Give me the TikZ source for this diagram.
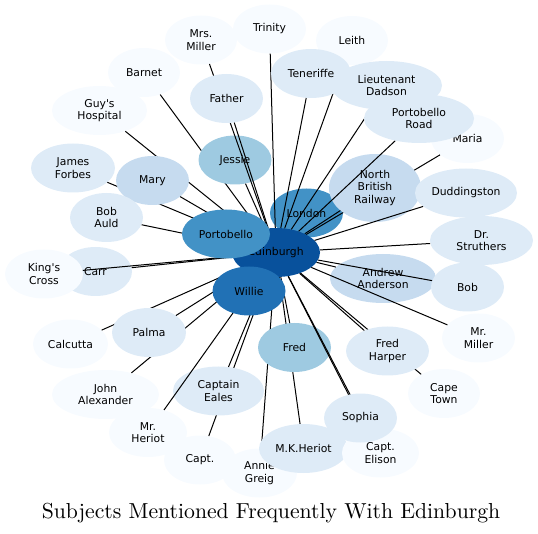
\documentclass[tikz,border=0pt]{standalone}
\usepackage{fontspec}
\newfontfamily\labelfont{DejaVu Sans}
\newfontfamily\titlefont{lmroman10-regular.otf}
\usetikzlibrary{shapes.geometric}
\definecolor{blue0}{HTML}{F7FBFF}
\definecolor{blue1}{HTML}{DEEBF7}
\definecolor{blue2}{HTML}{C6DBEF}
\definecolor{blue3}{HTML}{9ECAE1}
\definecolor{blue5}{HTML}{4292C6}
\definecolor{blue6}{HTML}{2171B5}
\definecolor{blue7}{HTML}{08519C}
\tikzset{
  subj/.style={ellipse, inner sep=0pt, minimum height=49pt, align=center,
    font=\labelfont\fontsize{10.8}{12.5}\selectfont},
  tie/.style={black, line width=1pt},
}
\begin{document}
\begin{tikzpicture}[x=1pt, y=-1pt]
  \useasboundingbox (0,0) rectangle (538,534);
  % one subject: \subject[extra]{name}{x}{y}{width}{fill}{label}, then its tie to the hub
  \newcommand\subject[7][]{%
    \node[subj, fill=#6, minimum width=#5, #1] (#2) at (#3,#4) {#7};
    \draw[tie] (edin) -- (#2);}
  % hub, and the node lying under it
  \node[subj, fill=blue5, minimum width=73pt] (london) at (306.5,213) {London};
  \node[subj, fill=blue7, minimum width=88pt] (edin) at (276,252.5) {Edinburgh};
  % drawn from the bottom up, so later ellipses hide earlier ties
  \subject{carr}{95.5}{271.5}{73pt}{blue1}{Carr}
  \subject{kings}{44}{274}{78pt}{blue0}{King's\\Cross}
  \subject{barnet}{144}{72.5}{72pt}{blue0}{Barnet}
  \subject{guys}{99.5}{110.5}{95pt}{blue0}{Guy's\\Hospital}
  \subject{forbes}{73}{168}{84pt}{blue1}{James\\Forbes}
  \subject{mary}{152.5}{180.5}{73pt}{blue2}{Mary}
  \subject{auld}{106.5}{217.5}{73pt}{blue1}{Bob\\Auld}
  \subject{jessie}{235}{160}{73pt}{blue3}{Jessie}
  \subject{mrsmiller}{201}{40}{72pt}{blue0}{Mrs.\\Miller}
  \subject{father}{226.5}{98.5}{73pt}{blue1}{Father}
  \subject{trinity}{269.5}{29}{73pt}{blue0}{Trinity}
  \subject{leith}{352}{40.5}{72pt}{blue0}{Leith}
  \subject{teneriffe}{311}{73.5}{80pt}{blue1}{Teneriffe}
  \subject{dadson}{386.5}{85.5}{111pt}{blue1}{Lieutenant\\Dadson}
  \subject{maria}{467.5}{138.5}{73pt}{blue0}{Maria}
  \subject[minimum height=68pt]{nbr}{375}{188}{92pt}{blue2}{North\\British\\Railway}
  \subject{duddingston}{466}{193}{102pt}{blue1}{Duddingston}
  \subject{pbroad}{419}{118.5}{110pt}{blue1}{Portobello\\Road}
  \subject{struthers}{481.5}{240.5}{103pt}{blue1}{Dr.\\Struthers}
  \subject{anderson}{383}{278.5}{106pt}{blue2}{Andrew\\Anderson}
  \subject{bob}{467.5}{287}{73pt}{blue1}{Bob}
  \subject{mrmiller}{478.5}{338}{73pt}{blue0}{Mr.\\Miller}
  \subject{capetown}{444}{393.5}{72pt}{blue0}{Cape\\Town}
  \subject{harper}{387.5}{351}{83pt}{blue1}{Fred\\Harper}
  \subject{annie}{259.5}{473}{75pt}{blue0}{Annie\\Greig}
  \subject{mkheriot}{303.5}{448.5}{89pt}{blue1}{M.K.Heriot}
  \subject{fred}{294.5}{347.5}{73pt}{blue3}{Fred}
  \subject{elison}{380.5}{453}{77pt}{blue0}{Capt.\\Elison}
  \subject{sophia}{360.5}{418}{73pt}{blue1}{Sophia}
  \subject{capt}{200}{460}{72pt}{blue0}{Capt.}
  \subject{eales}{218.5}{391}{91pt}{blue1}{Captain\\Eales}
  \subject{mrheriot}{148}{432.5}{78pt}{blue0}{Mr.\\Heriot}
  \subject{alexander}{105.5}{394.5}{107pt}{blue0}{John\\Alexander}
  \subject{calcutta}{70.5}{344}{75pt}{blue0}{Calcutta}
  \subject{palma}{149}{332.5}{74pt}{blue1}{Palma}
  % big neighbours on top of the hub
  \node[subj, fill=blue5, minimum width=88pt] (portobello) at (226,234) {Portobello};
  \node[subj, fill=blue6, minimum width=73pt] (willie) at (249,291) {Willie};
  \node[anchor=base, font=\titlefont\fontsize{21.7}{24}\selectfont] (title) at (271,518)
    {Subjects Mentioned Frequently With Edinburgh};
\end{tikzpicture}
\end{document}
